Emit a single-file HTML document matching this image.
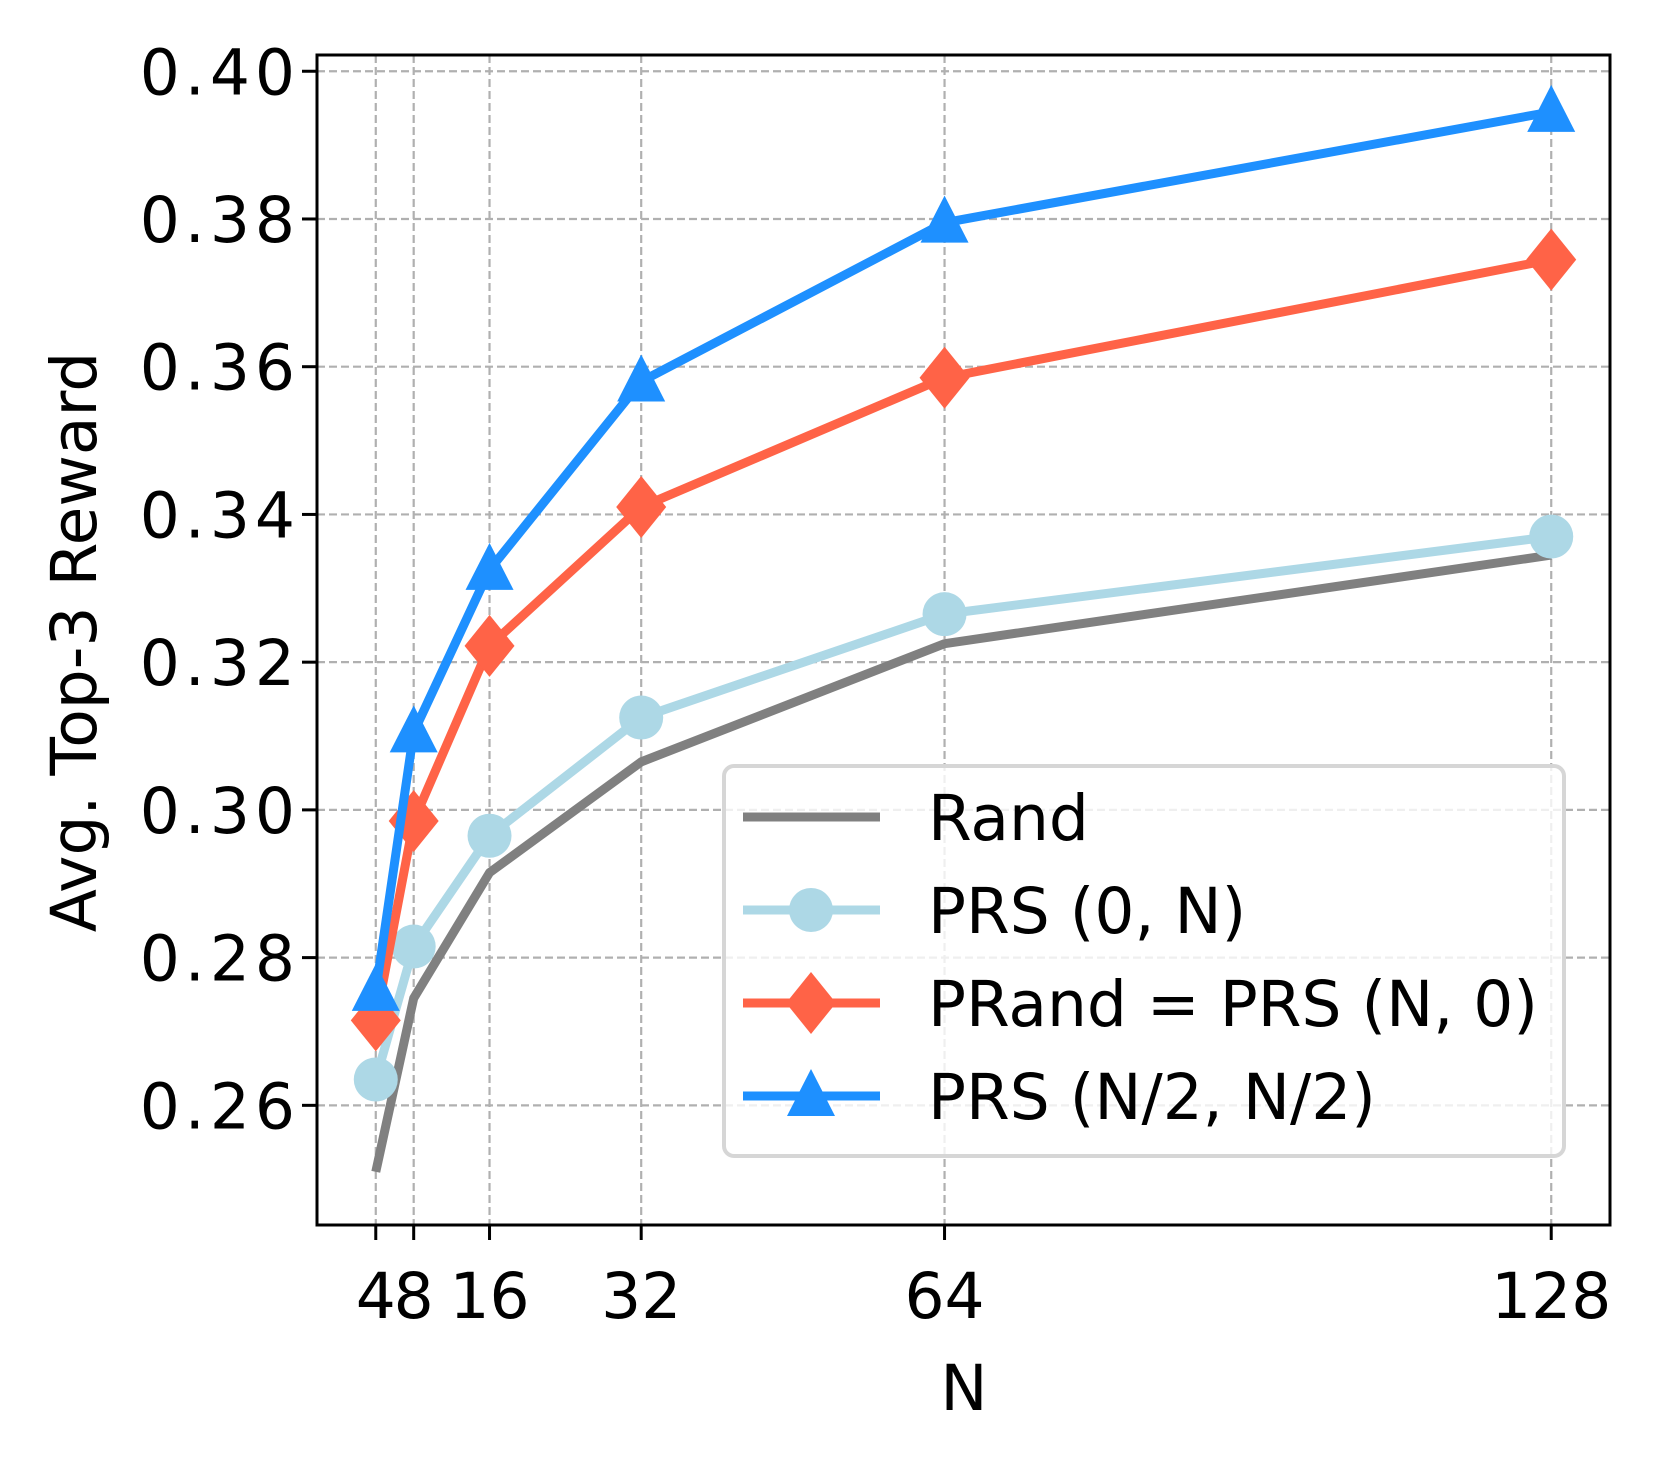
<!DOCTYPE html>
<html><head><meta charset="utf-8"><style>
html,body{margin:0;padding:0;background:#fff;}
svg{display:block;font-family:"DejaVu Sans","Liberation Sans",sans-serif;}
</style></head><body>
<svg id="chart" width="1658" height="1462" viewBox="0 0 1658 1462" xmlns="http://www.w3.org/2000/svg">
<rect width="1658" height="1462" fill="#fff"/>
<g id="grid"></g><g id="series"></g><g id="axes"></g><g id="legend"></g>
</svg>
<script>
const xValues = [4, 8, 16, 32, 64, 128];
const xTickLabels = ["4", "8", "16", "32", "64", "128"];
const yTicks = [0.26, 0.28, 0.30, 0.32, 0.34, 0.36, 0.38, 0.40];
const yTickLabels = ["0.26", "0.28", "0.30", "0.32", "0.34", "0.36", "0.38", "0.40"];
const randValues = [0.251, 0.2745, 0.2915, 0.3065, 0.3225, 0.3345];
const prs0NValues = [0.2635, 0.2815, 0.2965, 0.3125, 0.3265, 0.337];
const prandValues = [0.2715, 0.2985, 0.3222, 0.341, 0.3585, 0.3745];
const prsHalfValues = [0.2755, 0.3105, 0.3325, 0.358, 0.3795, 0.3945];
const seriesNames = ["Rand", "PRS (0, N)", "PRand = PRS (N, 0)", "PRS (N/2, N/2)"];

const NS = "http://www.w3.org/2000/svg";
const L = 317, R = 1610, T = 55, B = 1225;
const xMin = -2.2, xMax = 134.2, yMin = 0.2438, yMax = 0.4022;
const FS = 63;
function xs(v){ return L + (v - xMin) / (xMax - xMin) * (R - L); }
function ys(v){ return B - (v - yMin) / (yMax - yMin) * (B - T); }
function mk(tag, attrs, parent){ const e = document.createElementNS(NS, tag); for (const k in attrs) e.setAttribute(k, attrs[k]); parent.appendChild(e); return e; }

const grid = document.getElementById('grid');
const axes = document.getElementById('axes');
const seriesG = document.getElementById('series');
const legend = document.getElementById('legend');

xValues.forEach((v, i) => {
  const g = mk('line', {x1: xs(v), x2: xs(v), y1: T, y2: B, stroke: '#b0b0b0', 'stroke-width': 2.2, 'stroke-dasharray': '8,4'}, grid);
  
  
  const t = mk('line', {x1: xs(v), x2: xs(v), y1: B, y2: B + 15, stroke: '#000', 'stroke-width': 3}, axes);
  
  
  const lab = mk('text', {x: xs(v), y: 1318, 'text-anchor': 'middle', 'font-size': FS, fill: '#000'}, axes);
  lab.textContent = xTickLabels[i];
  
  
});
yTicks.forEach((v, i) => {
  const g = mk('line', {x1: L, x2: R, y1: ys(v), y2: ys(v), stroke: '#b0b0b0', 'stroke-width': 2.2, 'stroke-dasharray': '8,4'}, grid);
  
  
  const t = mk('line', {x1: L - 15, x2: L, y1: ys(v), y2: ys(v), stroke: '#000', 'stroke-width': 3}, axes);
  
  
  const lab = mk('text', {x: 300, y: ys(v) + 23, 'text-anchor': 'end', 'font-size': FS, 'letter-spacing': 5, fill: '#000'}, axes);
  lab.textContent = yTickLabels[i];
  
  
});
const frame = mk('rect', {x: L, y: T, width: R - L, height: B - T, fill: 'none', stroke: '#000', 'stroke-width': 3}, axes);


const xt = mk('text', {x: 964, y: 1410, 'text-anchor': 'middle', 'font-size': FS}, axes);
xt.textContent = 'N';


const yt = mk('text', {x: 0, y: 0, 'text-anchor': 'middle', 'font-size': FS, transform: 'translate(96,642) rotate(-90)'}, axes);
yt.textContent = 'Avg. Top-3 Reward';



function marker(type, cx, cy, color, parent){
  if (type === 'circle') return mk('circle', {cx: cx, cy: cy, r: 22, fill: color}, parent);
  if (type === 'diamond') return mk('polygon', {points: `${cx},${cy-31} ${cx+25},${cy} ${cx},${cy+31} ${cx-25},${cy}`, fill: color}, parent);
  if (type === 'triangle') return mk('polygon', {points: `${cx},${cy-27} ${cx+24},${cy+20} ${cx-24},${cy+20}`, fill: color}, parent);
  return null;
}
const defs = [
  {vals: randValues, color: '#808080', m: null, name: 'rand'},
  {vals: prs0NValues, color: '#add8e6', m: 'circle', name: 'prs-0-n'},
  {vals: prandValues, color: '#ff6347', m: 'diamond', name: 'prand'},
  {vals: prsHalfValues, color: '#1e90ff', m: 'triangle', name: 'prs-half'}
];
defs.forEach(d => {
  const g = mk('g', {}, seriesG);
  
  
  const pts = d.vals.map((v, i) => xs(xValues[i]) + ',' + ys(v)).join(' ');
  const pl = mk('polyline', {points: pts, fill: 'none', stroke: d.color, 'stroke-width': 9, 'stroke-linejoin': 'round'}, g);
  
  
  if (d.m) d.vals.forEach((v, i) => {
    const e = marker(d.m, xs(xValues[i]), ys(v), d.color, g);
    
    
  });
});

const lb = mk('rect', {x: 724, y: 766, width: 840, height: 390, rx: 10, fill: 'rgba(255,255,255,0.8)', stroke: '#d6d6d6', 'stroke-width': 4}, legend);


const rowsY = [817, 910, 1003, 1096];
defs.forEach((d, i) => {
  const g = mk('g', {}, legend);
  
  
  mk('line', {x1: 743, x2: 880, y1: rowsY[i], y2: rowsY[i], stroke: d.color, 'stroke-width': 9}, g);
  if (d.m) marker(d.m, 811, rowsY[i], d.color, g);
  const t = mk('text', {x: 928, y: rowsY[i] + 23, 'font-size': FS}, g);
  t.textContent = seriesNames[i];
});
</script>
</body></html>
